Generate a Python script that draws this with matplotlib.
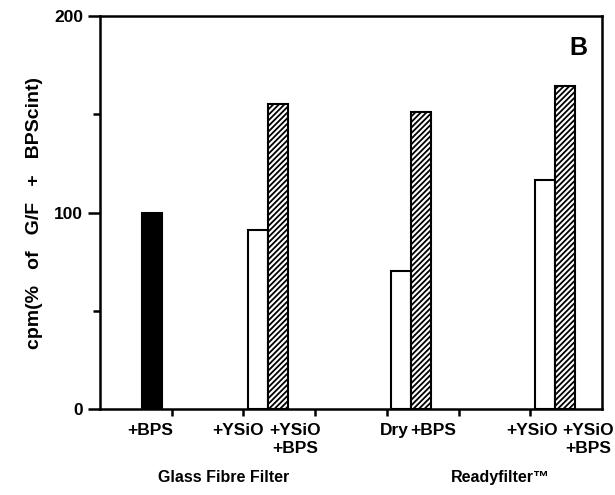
import matplotlib.pyplot as plt

# bar values, % of G/F + BPScint
solid_value = [100]
open_values = [91, 70, 116.5]
hatched_values = [155, 151, 164.5]

tick_labels = ["+BPS", "+YSiO", "+YSiO\n+BPS", "Dry", "+BPS", "+YSiO", "+YSiO\n+BPS"]
group_labels = ["Glass Fibre Filter", "Readyfilter\u2122"]

plt.rcParams["font.family"] = ["Liberation Sans", "DejaVu Sans"]
plt.rcParams["font.weight"] = "bold"
plt.rcParams["axes.labelweight"] = "bold"
plt.rcParams["hatch.linewidth"] = 1.3

fig = plt.figure(figsize=(6.15, 4.95), dpi=100)
ax = fig.add_axes([0.1626, 0.1737, 0.8163, 0.794])

width = 0.28
pair_x = [2, 4, 6]
ax.bar([0.73], solid_value, width, color="black", edgecolor="black", lw=1.5)
ax.bar([p + 0.2 for p in pair_x], open_values, width, color="white",
       edgecolor="black", lw=1.5)
ax.bar([p + 0.48 for p in pair_x], hatched_values, width, color="white",
       edgecolor="black", lw=1.5, hatch="//////")

ax.set_xlim(0, 7)
ax.set_ylim(0, 200)

for s in ax.spines.values():
    s.set_linewidth(1.8)

ax.set_yticks([0, 100, 200])
ax.set_yticks([50, 150], minor=True)
ax.tick_params(axis="y", which="major", length=9, width=1.8, labelsize=12.5, pad=3)
ax.tick_params(axis="y", which="minor", length=5, width=1.8)

# tick marks at the integer positions, labels placed under the bars
ax.set_xticks(range(1, 7), minor=True)
ax.tick_params(axis="x", which="minor", length=5, width=1.8)
label_x = [0.7, 1.93, 2.72, 4.11, 4.64, 6.03, 6.81]
ax.set_xticks(label_x)
ax.set_xticklabels(tick_labels, linespacing=1.25)
ax.tick_params(axis="x", which="major", length=0, labelsize=12.5, pad=10)

for x, txt in zip([1.72, 5.58], group_labels):
    ax.text(x, -31, txt, ha="center", va="top", fontsize=11.5,
            transform=ax.transData, clip_on=False)

ax.text(0.97, 0.95, "B", transform=ax.transAxes, ha="right", va="top",
        fontsize=18, fontweight="bold")

ax.set_ylabel("cpm(%   of   G/F   +   BPScint)", fontsize=14, labelpad=8)

fig.savefig("out.png", dpi=100)
